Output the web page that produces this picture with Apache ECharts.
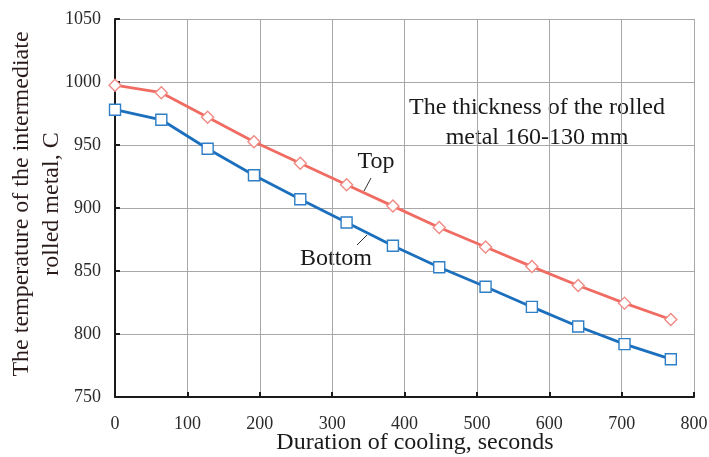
<!DOCTYPE html>
<html><head><meta charset="utf-8">
<script src="https://cdn.jsdelivr.net/npm/echarts@6/dist/echarts.min.js"></script>
<style>html,body{margin:0;padding:0;background:#fff}#c{width:709px;height:457px}</style>
</head><body><div id="c"></div>
<script>
const times = [0, 64, 128, 192, 256, 320, 384, 448, 512, 576, 640, 704, 768];
const topTemp = [997.5, 991.5, 972, 952.5, 935.5, 918.5, 901.5, 884.5, 869, 853.5, 838.5, 824.5, 811.5];
const bottomTemp = [978, 970, 947, 926, 907, 888.5, 870, 853, 837.5, 821.5, 806, 792, 780];
const xTicks = [0, 100, 200, 300, 400, 500, 600, 700, 800];
const yTicks = [750, 800, 850, 900, 950, 1000, 1050];

const font = '"Liberation Serif", "DejaVu Serif", serif';
const chart = echarts.init(document.getElementById('c'));
chart.setOption({
  animation: false,
  backgroundColor: '#fff',
  grid: {left: 115, right: 15, top: 19, bottom: 60, show: false, containLabel: false, outerBoundsMode: 'none'},
  xAxis: {
    type: 'value', min: xTicks[0], max: xTicks[xTicks.length-1], interval: 100,
    axisLine: {show: true, onZero: false, lineStyle: {color: '#1a1a1a', width: 2}},
    axisTick: {show: true, inside: true, length: 5, lineStyle: {color: '#1a1a1a', width: 2}},
    axisLabel: {fontFamily: font, fontSize: 18, color: '#2a2a2a', margin: 18, formatter: v => String(v)},
    splitLine: {show: true, lineStyle: {color: '#a8a8a8', width: 1}}
  },
  yAxis: {
    type: 'value', min: yTicks[0], max: yTicks[yTicks.length-1], interval: 50,
    axisLine: {show: true, lineStyle: {color: '#1a1a1a', width: 2}},
    axisTick: {show: true, inside: true, length: 5, lineStyle: {color: '#1a1a1a', width: 2}},
    axisLabel: {fontFamily: font, fontSize: 18, color: '#2a2a2a', margin: 14, formatter: v => String(v)},
    splitLine: {show: true, lineStyle: {color: '#a8a8a8', width: 1}}
  },
  series: [
    {
      name: 'Top', type: 'line', data: times.map((t,i)=>[t, topTemp[i]]),
      symbol: 'diamond', symbolSize: 12, showAllSymbol: true,
      lineStyle: {color: '#f06b62', width: 2.8},
      itemStyle: {color: '#ffffff', borderColor: '#f08a84', borderWidth: 1.4},
      z: 3
    },
    {
      name: 'Bottom', type: 'line', data: times.map((t,i)=>[t, bottomTemp[i]]),
      symbol: 'rect', symbolSize: 11, showAllSymbol: true,
      lineStyle: {color: '#1b6fbd', width: 2.8},
      itemStyle: {color: '#ffffff', borderColor: '#2f7fc6', borderWidth: 1.4},
      z: 3
    }
  ],
  graphic: [
    {type: 'text', x: 415, y: 443, style: {text: 'Duration of cooling, seconds', fontFamily: font, fontSize: 24, fill: '#1a1a1a', textAlign: 'center', textVerticalAlign: 'middle'}},
    {type: 'text', x: 537, y: 123, style: {text: 'The thickness of the rolled\nmetal 160-130 mm', fontFamily: font, fontSize: 24, fill: '#1a1a1a', textAlign: 'center', textVerticalAlign: 'middle', lineHeight: 30}},
    {type: 'text', x: 376, y: 162, style: {text: 'Top', fontFamily: font, fontSize: 24, fill: '#1a1a1a', textAlign: 'center', textVerticalAlign: 'middle'}},
    {type: 'text', x: 336, y: 259, style: {text: 'Bottom', fontFamily: font, fontSize: 24, fill: '#1a1a1a', textAlign: 'center', textVerticalAlign: 'middle'}},
    {type: 'line', shape: {x1: 371, y1: 178, x2: 364, y2: 191}, style: {stroke: '#333', lineWidth: 1}},
    {type: 'line', shape: {x1: 367, y1: 235, x2: 357, y2: 245}, style: {stroke: '#333', lineWidth: 1}},
    {type: 'text', x: 37, y: 204, rotation: Math.PI/2, style: {text: 'The temperature of the intermediate\nrolled metal, C', fontFamily: font, fontSize: 24, fill: '#2a1a1a', textAlign: 'center', textVerticalAlign: 'middle', lineHeight: 30}}
  ]
});
</script></body></html>
